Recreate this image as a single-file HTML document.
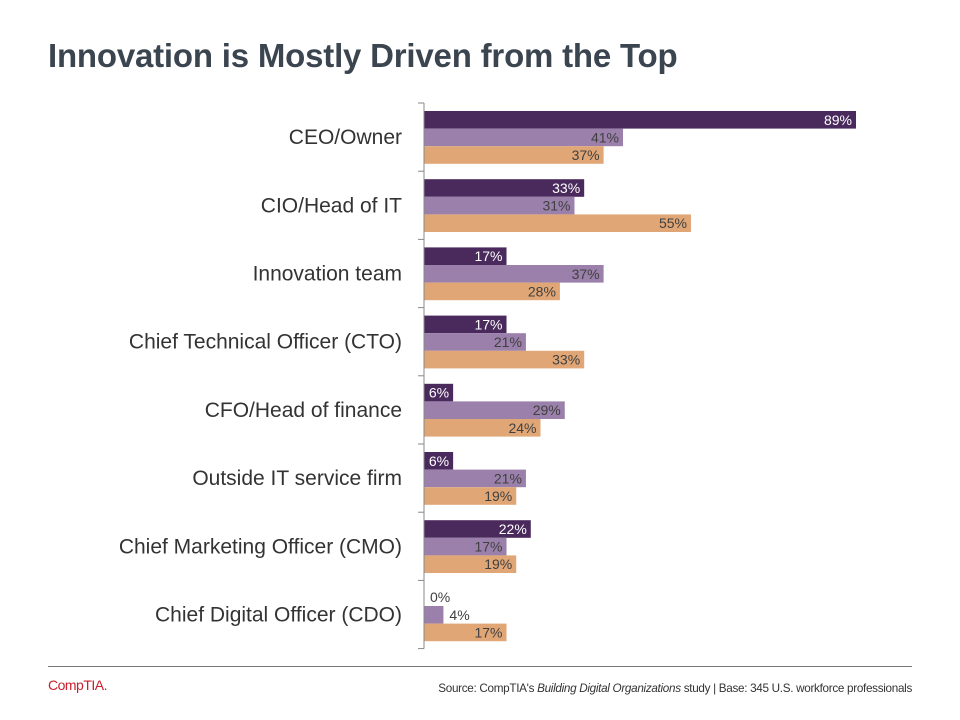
<!DOCTYPE html>
<html><head><meta charset="utf-8"><style>
body{margin:0;width:960px;height:720px;background:#fff;font-family:"Liberation Sans","DejaVu Sans",sans-serif;overflow:hidden;position:relative}
#title{position:absolute;left:48px;top:37px;font-size:33px;font-weight:bold;color:#3b4550;margin:0;letter-spacing:-0.2px}
#foot-line{position:absolute;left:48px;top:666px;width:864px;height:1px;background:#777}
#logo{position:absolute;left:48px;top:677px;color:#c8202f;font-size:14px;letter-spacing:-0.5px}
#source{position:absolute;right:48px;top:682px;font-size:11.7px;color:#333;letter-spacing:-0.3px}
</style></head><body>
<h1 id="title">Innovation is Mostly Driven from the Top</h1>
<svg id="chart" width="960" height="720" style="position:absolute;left:0;top:0"></svg>
<div id="foot-line"></div>
<div id="logo">CompTIA.</div>
<div id="source">Source: CompTIA's <i>Building Digital Organizations</i> study | Base: 345 U.S. workforce professionals</div>
<script>
const categories=["CEO/Owner","CIO/Head of IT","Innovation team","Chief Technical Officer (CTO)","CFO/Head of finance","Outside IT service firm","Chief Marketing Officer (CMO)","Chief Digital Officer (CDO)"];
const series1=[89,33,17,17,6,6,22,0];
const series2=[41,31,37,21,29,21,17,4];
const series3=[37,55,28,33,24,19,19,17];
const seriesList=[series1,series2,series3];
const colors=["#4a2a5c","#9a80aa","#e0a676"];
const labelColors=["#ffffff","#404040","#404040"];
const NS="http://www.w3.org/2000/svg";
const svg=document.getElementById('chart');
const x0=424,pxPer=4.854,yTop=103,groupH=68.2,barH=17.6,barOff=8;
const xs=v=>x0+v*pxPer;
const ys=(i,s)=>yTop+i*groupH+barOff+s*barH;
function mk(t,a){const e=document.createElementNS(NS,t);for(const k in a)e.setAttribute(k,a[k]);svg.appendChild(e);return e;}
categories.forEach((c,i)=>{
  seriesList.forEach((ser,s)=>{
    const v=ser[i];
    const r=mk('rect',{x:x0,y:ys(i,s),width:xs(v)-x0,height:barH,fill:colors[s]});
    
    
    const w=xs(v)-x0;const inside=w>28;
    const t=mk('text',{x:inside?xs(v)-4:xs(v)+6,y:ys(i,s)+barH/2+5,'text-anchor':inside?'end':'start','font-size':14,fill:inside?labelColors[s]:'#404040','font-family':'Liberation Sans, sans-serif'});
    t.textContent=v+'%';
    
    
  });
  const l=mk('text',{x:402,y:yTop+i*groupH+groupH/2+7,'text-anchor':'end','font-size':21,fill:'#333','font-family':'Liberation Sans, sans-serif'});
  l.textContent=c;
  
  
});
for(let i=0;i<=categories.length;i++){
  const tk=mk('line',{x1:418,x2:x0,y1:yTop+i*groupH,y2:yTop+i*groupH,stroke:'#888','stroke-width':1});
  
  
}
const ax=mk('line',{x1:x0,x2:x0,y1:yTop,y2:yTop+categories.length*groupH,stroke:'#888','stroke-width':1});


</script>
</body></html>
